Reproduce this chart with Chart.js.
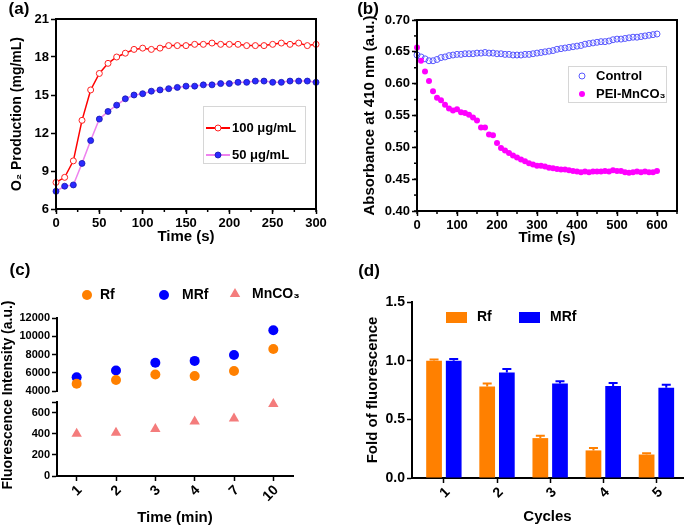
<!DOCTYPE html>
<html>
<head>
<meta charset="utf-8">
<script src="https://cdn.jsdelivr.net/npm/chart.js@4.4.0/dist/chart.umd.min.js"></script>
<style>
  body { margin: 0; background: #fff; }
  #wrap { position: relative; width: 685px; height: 527px; }
  canvas { position: absolute; }
</style>
</head>
<body>
<div id="wrap">
  <canvas id="chartA" width="340" height="250" style="left:0;top:0"></canvas>
  <canvas id="chartB" width="345" height="250" style="left:340px;top:0"></canvas>
  <canvas id="chartC1" width="340" height="277" style="left:0;top:250px"></canvas>
  <canvas id="chartC2" width="340" height="277" style="left:0;top:250px"></canvas>
  <canvas id="chartD" width="345" height="277" style="left:340px;top:250px"></canvas>
</div>
<script>
// (a) O2 production
var timeA = [0, 10, 20, 30, 40, 50, 60, 70, 80, 90, 100, 110, 120, 130, 140, 150, 160, 170, 180, 190, 200, 210, 220, 230, 240, 250, 260, 270, 280, 290, 300];
var o2High = [8.1, 8.5, 9.8, 13.0, 15.4, 16.7, 17.5, 18.0, 18.3, 18.6, 18.7, 18.6, 18.7, 18.9, 18.9, 18.9, 19.0, 19.0, 19.1, 19.0, 19.0, 19.0, 18.9, 18.9, 18.9, 19.0, 19.1, 19.0, 19.1, 18.9, 19.0];
var o2Low = [7.4, 7.8, 7.9, 9.6, 11.4, 13.1, 13.7, 14.2, 14.7, 15.0, 15.1, 15.3, 15.4, 15.5, 15.6, 15.7, 15.7, 15.8, 15.8, 15.9, 15.9, 16.0, 16.0, 16.1, 16.1, 16.0, 16.0, 16.1, 16.1, 16.1, 16.0];

// (b) absorbance at 410 nm
var timeB = [0, 10, 20, 30, 40, 50, 60, 70, 80, 90, 100, 110, 120, 130, 140, 150, 160, 170, 180, 190, 200,
  210, 220, 230, 240, 250, 260, 270, 280, 290, 300, 310, 320, 330, 340, 350, 360, 370, 380, 390, 400,
  410, 420, 430, 440, 450, 460, 470, 480, 490, 500, 510, 520, 530, 540, 550, 560, 570, 580, 590, 600];
var ctrlAbs = [0.645, 0.642, 0.639, 0.636, 0.636, 0.638, 0.641, 0.642, 0.644, 0.645,
  0.646, 0.646, 0.647, 0.647, 0.647, 0.648, 0.648, 0.649, 0.648, 0.648,
  0.647, 0.647, 0.646, 0.646, 0.645, 0.645, 0.645, 0.646, 0.646, 0.647,
  0.648, 0.649, 0.650, 0.651, 0.652, 0.654, 0.655, 0.656, 0.657, 0.658,
  0.659, 0.660, 0.662, 0.663, 0.664, 0.665, 0.666, 0.666, 0.667, 0.669,
  0.670, 0.670, 0.671, 0.672, 0.673, 0.673, 0.674, 0.675, 0.676, 0.677, 0.678];
var mnAbs = [0.657, 0.636, 0.619, 0.604, 0.588, 0.578, 0.574, 0.567, 0.561, 0.558,
  0.560, 0.555, 0.554, 0.551, 0.547, 0.542, 0.531, 0.531, 0.520, 0.519,
  0.507, 0.499, 0.495, 0.491, 0.487, 0.484, 0.481, 0.478, 0.475, 0.473,
  0.471, 0.471, 0.470, 0.468, 0.467, 0.466, 0.465, 0.465, 0.464, 0.463,
  0.462, 0.461, 0.462, 0.461, 0.462, 0.462, 0.462, 0.463, 0.462, 0.464,
  0.463, 0.463, 0.461, 0.460, 0.461, 0.462, 0.461, 0.462, 0.461, 0.461, 0.463];

// (c) fluorescence intensity, broken y axis
var timeC = ['1', '2', '3', '4', '7', '10'];
var rfInt = [4800, 5200, 5800, 5650, 6200, 8600];
var mrfInt = [5500, 6250, 7100, 7300, 7950, 10650];
var mnInt = [400, 410, 445, 515, 545, 680];
var upTicks = [4000, 6000, 8000, 10000, 12000];
var lowTicks = [0, 200, 400, 600, 700];   // 700 is the break mark, no label

// (d) fold of fluorescence
var cycles = [1, 2, 3, 4, 5];
var rfFold = [1.0, 0.78, 0.34, 0.235, 0.2];
var rfErr = [0.01, 0.025, 0.02, 0.02, 0.01];
var mrfFold = [1.0, 0.9, 0.805, 0.785, 0.77];
var mrfErr = [0.015, 0.03, 0.02, 0.025, 0.025];

var FONT = '"Liberation Sans", Arial, sans-serif';
Chart.defaults.font.family = FONT;
Chart.defaults.font.weight = 'bold';
Chart.defaults.color = '#000';
Chart.defaults.animation = false;
Chart.defaults.responsive = false;
Chart.defaults.devicePixelRatio = 1;
Chart.defaults.plugins.legend.display = false;
Chart.defaults.plugins.tooltip.enabled = false;

function f(size) { return { family: FONT, size: size, weight: 'bold' }; }
function tickGrid() {
  return { drawOnChartArea: false, drawTicks: true, tickLength: 5, tickWidth: 1.5, tickColor: '#000', color: '#000' };
}
function axisLine() { return { display: true, color: '#000', width: 2 }; }
function plain(v) { return String(v); }

function marker(ctx, set, x, y) {
  var r = set.pointRadius;
  ctx.beginPath();
  if (set.pointStyle === 'triangle') {
    ctx.moveTo(x, y - r);
    ctx.lineTo(x + r * 0.866, y + r / 2);
    ctx.lineTo(x - r * 0.866, y + r / 2);
    ctx.closePath();
  } else {
    ctx.arc(x, y, r, 0, Math.PI * 2);
  }
  ctx.fillStyle = set.pointBackgroundColor;
  ctx.fill();
  if (set.pointBorderWidth) {
    ctx.lineWidth = set.pointBorderWidth;
    ctx.strokeStyle = set.pointBorderColor;
    ctx.stroke();
  }
}

// box round the plot area
var frame = {
  id: 'frame',
  afterDraw: function (chart) {
    var a = chart.chartArea, ctx = chart.ctx;
    ctx.save();
    ctx.strokeStyle = '#000';
    ctx.lineWidth = 2;
    ctx.strokeRect(a.left, a.top, a.right - a.left, a.bottom - a.top);
    ctx.restore();
  }
};

// short unlabelled ticks between the major ones
var minorTicks = {
  id: 'minorTicks',
  afterDraw: function (chart, args, opts) {
    var ctx = chart.ctx, a = chart.chartArea;
    ctx.save();
    ctx.strokeStyle = '#000';
    ctx.lineWidth = 1.5;
    (opts.list || []).forEach(function (m) {
      var s = chart.scales[m.id];
      var n = Math.round((s.max - s.min) / m.step);
      for (var i = 0; i <= n; i++) {
        var p = s.getPixelForValue(s.min + i * m.step);
        ctx.beginPath();
        if (m.id === 'x') { ctx.moveTo(p, a.bottom); ctx.lineTo(p, a.bottom + 3); }
        else { ctx.moveTo(a.left, p); ctx.lineTo(a.left - 3, p); }
        ctx.stroke();
      }
    });
    ctx.restore();
  }
};

// legend drawn at fixed spots
var placedLegend = {
  id: 'placedLegend',
  afterDraw: function (chart, args, opts) {
    if (!opts.items) return;
    var ctx = chart.ctx;
    ctx.save();
    if (opts.box) {
      ctx.strokeStyle = '#d6d6d6';
      ctx.lineWidth = 1;
      ctx.strokeRect(opts.box[0] + 0.5, opts.box[1] + 0.5, opts.box[2], opts.box[3]);
    }
    opts.items.forEach(function (it) {
      var s = it.set;
      if (it.line) {
        ctx.strokeStyle = s.borderColor;
        ctx.lineWidth = 2;
        ctx.beginPath();
        ctx.moveTo(it.line[0], it.y);
        ctx.lineTo(it.line[1], it.y);
        ctx.stroke();
      }
      if (it.rect) {
        ctx.fillStyle = s.backgroundColor;
        ctx.fillRect(it.x - it.rect[0] / 2, it.y - it.rect[1] / 2, it.rect[0], it.rect[1]);
      } else {
        marker(ctx, s, it.x, it.y);
      }
      ctx.fillStyle = '#000';
      ctx.font = 'bold ' + opts.size + 'px ' + FONT;
      ctx.textBaseline = 'middle';
      ctx.textAlign = 'left';
      ctx.fillText(s.label, it.tx, it.y);
    });
    ctx.restore();
  }
};

// panel letters and free text
var panelText = {
  id: 'panelText',
  afterDraw: function (chart, args, opts) {
    var ctx = chart.ctx;
    (opts.items || []).forEach(function (t) {
      ctx.save();
      ctx.translate(t.x, t.y);
      ctx.rotate(t.rot || 0);
      ctx.font = 'bold ' + t.size + 'px ' + FONT;
      ctx.fillStyle = '#000';
      ctx.textAlign = 'center';
      ctx.textBaseline = 'middle';
      ctx.fillText(t.text, 0, 0);
      ctx.restore();
    });
  }
};

// upper error bars for (d)
var errorBars = {
  id: 'errorBars',
  afterDatasetsDraw: function (chart) {
    var ctx = chart.ctx, y = chart.scales.y;
    chart.data.datasets.forEach(function (ds, i) {
      var meta = chart.getDatasetMeta(i);
      meta.data.forEach(function (bar, j) {
        var top = y.getPixelForValue(ds.data[j] + ds.errors[j]);
        ctx.save();
        ctx.strokeStyle = ds.backgroundColor;
        ctx.lineWidth = 2;
        ctx.beginPath();
        ctx.moveTo(bar.x, bar.y);
        ctx.lineTo(bar.x, top);
        ctx.moveTo(bar.x - 4.5, top);
        ctx.lineTo(bar.x + 4.5, top);
        ctx.stroke();
        ctx.restore();
      });
    });
  }
};

// ---------- (a) ----------
var highSet = {
  label: '100 \u03bcg/mL', data: o2High, borderColor: '#ff0000', borderWidth: 1.5,
  pointStyle: 'circle', pointRadius: 3, pointBackgroundColor: '#ffffff', pointBorderColor: '#ff2020', pointBorderWidth: 1,
  clip: false
};
var lowSet = {
  label: '50 \u03bcg/mL', data: o2Low, borderColor: '#ee82ee', borderWidth: 1.5,
  pointStyle: 'circle', pointRadius: 3, pointBackgroundColor: '#2a2aff', pointBorderColor: '#1515b0', pointBorderWidth: 0.8,
  clip: false
};
new Chart(document.getElementById('chartA'), {
  type: 'line',
  data: { labels: timeA, datasets: [highSet, lowSet] },
  options: {
    layout: { padding: { left: 0, top: 19, right: 24, bottom: 0 } },
    scales: {
      x: {
        type: 'linear', min: 0, max: 300,
        ticks: { stepSize: 50, padding: 2, font: f(13), maxRotation: 0 },
        grid: tickGrid(), border: axisLine(),
        title: { display: true, text: 'Time (s)', font: f(15), padding: { top: 0, bottom: 4 } },
        afterFit: function (s) { s.height = 41; }
      },
      y: {
        min: 6, max: 21,
        ticks: { stepSize: 3, padding: 2, font: f(13) },
        grid: tickGrid(), border: axisLine(),
        title: { display: true, text: 'O\u2082 Production (mg/mL)', font: f(14), padding: { top: 9, bottom: 0 } },
        afterFit: function (s) { s.width = 56; }
      }
    },
    plugins: {
      minorTicks: { list: [{ id: 'x', step: 25 }] },
      placedLegend: {
        size: 13, box: [203, 106, 102, 57],
        items: [
          { set: highSet, x: 218, y: 128, tx: 232, line: [206, 230] },
          { set: lowSet, x: 218, y: 155, tx: 232, line: [206, 230] }
        ]
      },
      panelText: { items: [{ text: '(a)', x: 19, y: 9, size: 17 }] }
    }
  },
  plugins: [frame, minorTicks, placedLegend, panelText]
});

// ---------- (b) ----------
var ctrlSet = {
  label: 'Control', data: ctrlAbs, showLine: false,
  pointStyle: 'circle', pointRadius: 3, pointBackgroundColor: 'rgba(255,255,255,0)', pointBorderColor: '#5a5aff', pointBorderWidth: 1,
  borderColor: '#5a5aff', clip: false
};
var mnSetB = {
  label: 'PEI-MnCO\u2083', data: mnAbs, showLine: false,
  pointStyle: 'circle', pointRadius: 3, pointBackgroundColor: '#ff00ff', pointBorderColor: '#ff00ff', pointBorderWidth: 0,
  borderColor: '#ff00ff', clip: false
};
new Chart(document.getElementById('chartB'), {
  type: 'line',
  data: { labels: timeB, datasets: [mnSetB, ctrlSet] },
  options: {
    layout: { padding: { left: 0, top: 20, right: 8, bottom: 0 } },
    scales: {
      x: {
        type: 'linear', min: 0, max: 650,
        ticks: { stepSize: 100, includeBounds: false, padding: 2, font: f(13), maxRotation: 0 },
        grid: tickGrid(), border: axisLine(),
        title: { display: true, text: 'Time (s)', font: f(15), padding: { top: 0, bottom: 3 } },
        afterFit: function (s) { s.height = 39; }
      },
      y: {
        min: 0.4, max: 0.7,
        ticks: { stepSize: 0.05, padding: 2, font: f(13), callback: function (v) { return v.toFixed(2); } },
        grid: tickGrid(), border: axisLine(),
        title: { display: true, text: 'Absorbance at 410 nm (a.u.)', font: f(15), padding: { top: 21, bottom: 0 } },
        afterFit: function (s) { s.width = 77; }
      }
    },
    plugins: {
      minorTicks: { list: [{ id: 'x', step: 50 }, { id: 'y', step: 0.025 }] },
      placedLegend: {
        size: 13, box: [228, 66, 98, 36],
        items: [
          { set: ctrlSet, x: 242, y: 76, tx: 256 },
          { set: mnSetB, x: 242, y: 94, tx: 256 }
        ]
      },
      panelText: { items: [{ text: '(b)', x: 28, y: 9, size: 17 }] }
    }
  },
  plugins: [frame, minorTicks, placedLegend, panelText]
});

// ---------- (c) ----------
var rfSet = {
  label: 'Rf', data: rfInt, showLine: false, borderColor: '#ff8000',
  pointStyle: 'circle', pointRadius: 5, pointBackgroundColor: '#ff8000', pointBorderColor: '#ff8000', pointBorderWidth: 0,
  clip: false
};
var mrfSet = {
  label: 'MRf', data: mrfInt, showLine: false, borderColor: '#0000ff',
  pointStyle: 'circle', pointRadius: 5, pointBackgroundColor: '#0000ff', pointBorderColor: '#0000ff', pointBorderWidth: 0,
  clip: false
};
var mnSetC = {
  label: 'MnCO\u2083', data: mnInt, showLine: false, borderColor: '#f47c7c',
  pointStyle: 'triangle', pointRadius: 6, pointBackgroundColor: '#f47c7c', pointBorderColor: '#f47c7c', pointBorderWidth: 0,
  clip: false
};
new Chart(document.getElementById('chartC1'), {
  type: 'line',
  data: { labels: timeC, datasets: [rfSet, mrfSet] },
  options: {
    layout: { padding: { left: 0, top: 68, right: 47, bottom: 136 } },
    scales: {
      x: { offset: true, display: false },
      y: {
        min: 4000, max: 12000,
        afterBuildTicks: function (s) { s.ticks = upTicks.map(function (v) { return { value: v }; }); },
        ticks: { padding: 2, font: f(11), callback: plain },
        grid: tickGrid(), border: axisLine(),
        afterFit: function (s) { s.width = 57; }
      }
    },
    plugins: {
      placedLegend: {
        size: 14,
        items: [
          { set: rfSet, x: 87, y: 45, tx: 100 },
          { set: mrfSet, x: 164, y: 45, tx: 182 },
          { set: mnSetC, x: 235, y: 44, tx: 252 }
        ]
      },
      panelText: {
        items: [
          { text: '(c)', x: 20, y: 20, size: 17 },
          { text: 'Fluorescence Intensity (a.u.)', x: 8, y: 145, size: 14, rot: -Math.PI / 2 }
        ]
      }
    }
  },
  plugins: [placedLegend, panelText]
});
new Chart(document.getElementById('chartC2'), {
  type: 'line',
  data: { labels: timeC, datasets: [mnSetC] },
  options: {
    layout: { padding: { left: 0, top: 152, right: 47, bottom: 0 } },
    scales: {
      x: {
        offset: true,
        ticks: { minRotation: 45, maxRotation: 45, autoSkip: false, padding: 1, labelOffset: 3, font: f(14) },
        grid: tickGrid(), border: axisLine(),
        title: { display: true, text: 'Time (min)', font: f(15), padding: { top: 0, bottom: 0 } },
        afterFit: function (s) { s.height = 51; }
      },
      y: {
        min: 0, max: 700,
        afterBuildTicks: function (s) { s.ticks = lowTicks.map(function (v) { return { value: v }; }); },
        ticks: { padding: 2, font: f(11), callback: function (v) { return v === 700 ? '' : String(v); } },
        grid: tickGrid(), border: axisLine(),
        afterFit: function (s) { s.width = 57; }
      }
    }
  }
});

// ---------- (d) ----------
var rfBar = {
  label: 'Rf', data: rfFold, errors: rfErr, backgroundColor: '#ff8000',
  categoryPercentage: 0.74, barPercentage: 0.8
};
var mrfBar = {
  label: 'MRf', data: mrfFold, errors: mrfErr, backgroundColor: '#0000ff',
  categoryPercentage: 0.74, barPercentage: 0.8
};
new Chart(document.getElementById('chartD'), {
  type: 'bar',
  data: { labels: cycles, datasets: [rfBar, mrfBar] },
  options: {
    layout: { padding: { left: 0, top: 52, right: 2, bottom: 0 } },
    scales: {
      x: {
        type: 'linear', min: 0.4, max: 5.5, offset: false,
        afterBuildTicks: function (s) { s.ticks = cycles.map(function (v) { return { value: v }; }); },
        ticks: { minRotation: 45, maxRotation: 45, autoSkip: false, padding: 1, labelOffset: 4, font: f(14) },
        grid: Object.assign(tickGrid(), { offset: false }), border: axisLine(),
        title: { display: true, text: 'Cycles', font: f(15), padding: { top: 0, bottom: 1 } },
        afterFit: function (s) { s.height = 49; }
      },
      y: {
        min: 0, max: 1.5,
        ticks: { stepSize: 0.5, padding: 2, font: f(14), callback: function (v) { return v.toFixed(1); } },
        grid: tickGrid(), border: axisLine(),
        title: { display: true, text: 'Fold of fluorescence', font: f(15), padding: { top: 24, bottom: 0 } },
        afterFit: function (s) { s.width = 72; }
      }
    },
    plugins: {
      placedLegend: {
        size: 14,
        items: [
          { set: rfBar, x: 116.5, y: 67.5, tx: 137, rect: [21, 11] },
          { set: mrfBar, x: 189.5, y: 67.5, tx: 210, rect: [21, 11] }
        ]
      },
      panelText: { items: [{ text: '(d)', x: 29, y: 21, size: 17 }] }
    }
  },
  plugins: [errorBars, placedLegend, panelText]
});
</script>
</body>
</html>
